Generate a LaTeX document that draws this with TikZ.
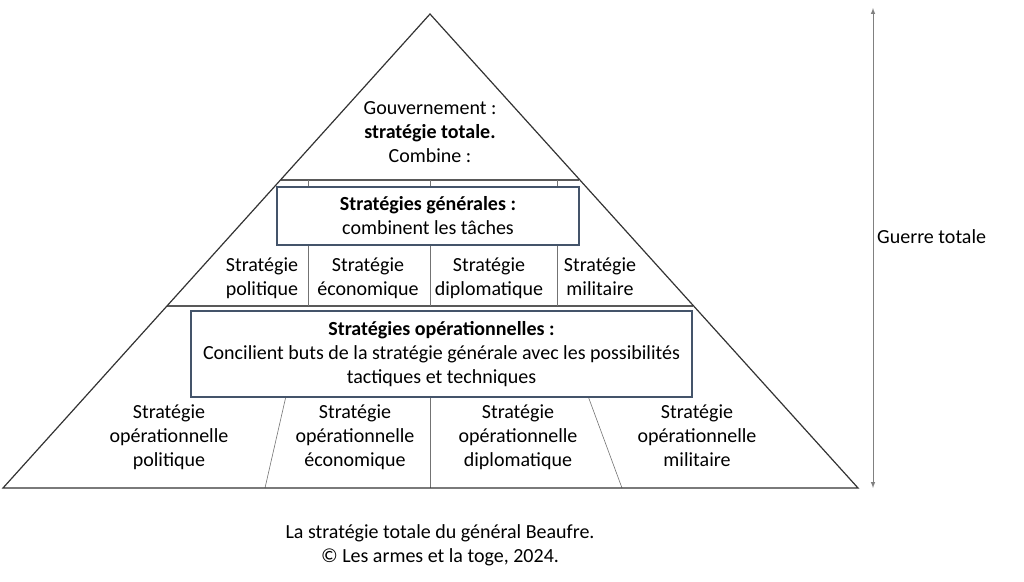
\documentclass[tikz,border=0pt]{standalone}
\usepackage{fontspec}
\setmainfont{Carlito}
\usetikzlibrary{arrows}
\definecolor{boxblue}{HTML}{44546A}
\tikzstyle{edgeline}=[draw=black!80, line width=1.2pt, line join=miter]
\tikzstyle{bandline}=[draw=black!65, line width=1.3pt]
\tikzstyle{divider}=[draw=black!55, line width=0.6pt]
\tikzstyle{stratbox}=[rectangle, draw=boxblue, line width=1.2pt, fill=white, align=center, inner sep=0pt]
\tikzstyle{txt}=[align=center, inner sep=0pt]
\tikzstyle{cell}=[align=center, inner sep=0pt, anchor=north]

\begin{document}
\begin{tikzpicture}[x=1pt,y=-1pt,>=latex,font=\fontsize{20}{24}\selectfont]
  \useasboundingbox (0,0) rectangle (1024,581);
  % corners of the pyramid and band ends
  \coordinate (A) at (430,14);
  \coordinate (L) at (3,488);
  \coordinate (R) at (858,488);
  \coordinate (T1) at (281,180);
  \coordinate (T2) at (579,180);
  \coordinate (M1) at (167,306);
  \coordinate (M2) at (693,306);
  \draw[bandline] (T1) -- (T2);
  \draw[bandline] (M1) -- (M2);
  % dividers
  \foreach \x in {308,430,557}
    \draw[divider] (\x,180) -- (\x,306);
  \draw[divider] (286,396) -- (265,488);
  \draw[divider] (430,396) -- (430,488);
  \draw[divider] (588,396) -- (622,488);
  \draw[edgeline] (A) -- (L) -- (R) -- cycle;
  % boxes
  \node (Sgen) [stratbox, minimum width=302, minimum height=58] at (428,216)
    {\textbf{Stratégies générales :}\\combinent les tâches};
  \node (Sop) [stratbox, minimum width=501, minimum height=86] at (441.5,354)
    {\textbf{Stratégies opérationnelles :}\\Concilient buts de la stratégie générale avec les possibilités\\tactiques et techniques};
  % texts
  \node (Gouv) [txt] at (430,132) {Gouvernement :\\\textbf{stratégie totale.}\\Combine :};
  \node (Gpol) [cell] at (262,258) {Stratégie\\politique};
  \node (Geco) [cell] at (368,258) {Stratégie\\économique};
  \node (Gdip) [cell] at (489,258) {Stratégie\\diplomatique};
  \node (Gmil) [cell] at (600,258) {Stratégie\\militaire};
  \node (Opol) [cell] at (169,405) {Stratégie\\opérationnelle\\politique};
  \node (Oeco) [cell] at (355,405) {Stratégie\\opérationnelle\\économique};
  \node (Odip) [cell] at (518,405) {Stratégie\\opérationnelle\\diplomatique};
  \node (Omil) [cell] at (697,405) {Stratégie\\opérationnelle\\militaire};
  % arrow
  \coordinate (GT) at (873,8);
  \coordinate (GB) at (873,488);
  \draw[<->, draw=black!50, line width=1pt] (GT) -- (GB);
  \node (Guerre) [txt, anchor=west] at (877,237) {Guerre totale};
  \node (Cap) [txt] at (440,545) {La stratégie totale du général Beaufre.\\© Les armes et la toge, 2024.};
\end{tikzpicture}
\end{document}
